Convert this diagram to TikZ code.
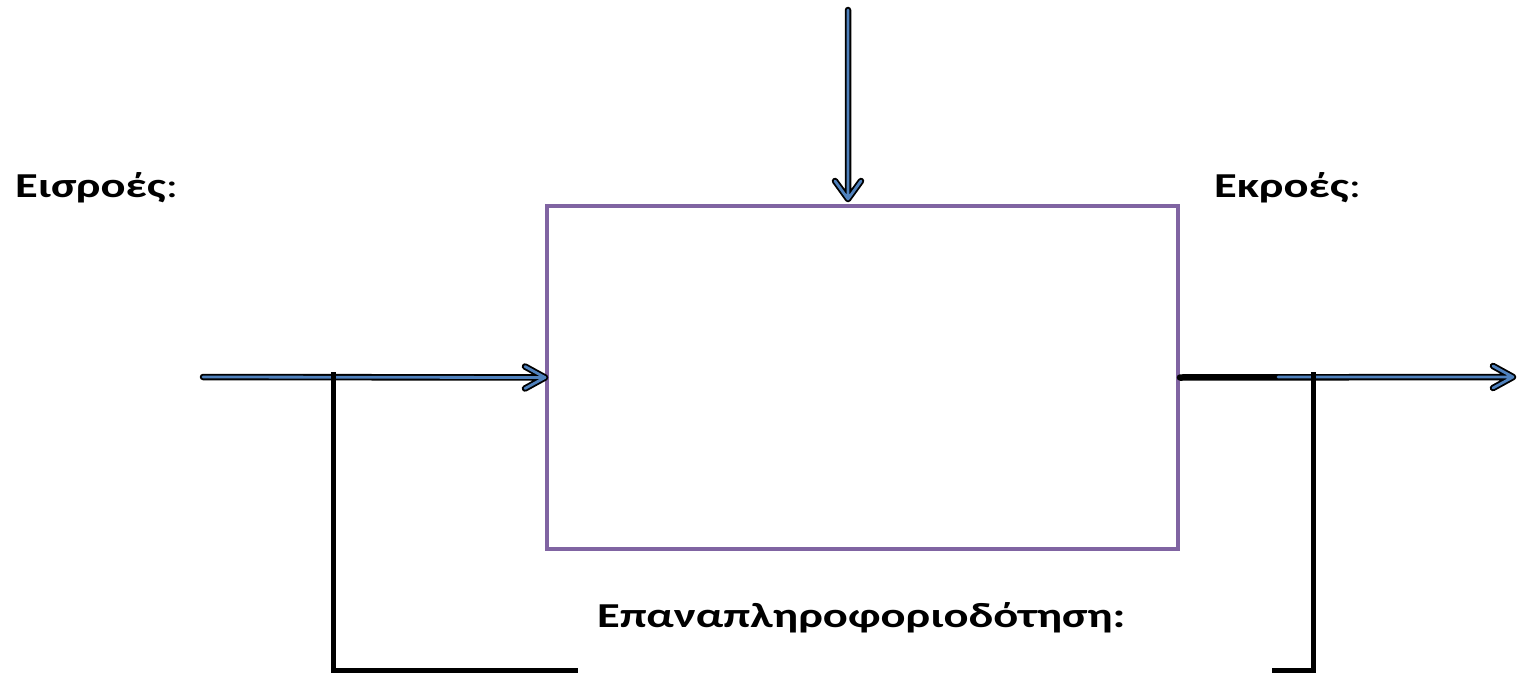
\documentclass[tikz,border=0pt]{standalone}
\usepackage{fontspec}
\setmainfont{Carlito}
\usetikzlibrary{calc}
\definecolor{boxpurple}{HTML}{8064A2}
\definecolor{flowblue}{HTML}{4F81BD}
\newcommand{\widetext}[1]{\scalebox{1.33}[1]{#1}}
\tikzset{
  sysbox/.style={draw=boxpurple, line width=4pt, minimum width=631pt, minimum height=343pt, inner sep=0pt},
  flowouter/.style={draw=black, line width=6.5pt, line cap=round, line join=round},
  flowinner/.style={draw=flowblue, line width=2.8pt, line cap=round, line join=round},
  fbline/.style={draw=black, line width=5pt},
  lbl/.style={inner sep=0pt, font=\fontsize{35}{42}\selectfont}
}
\begin{document}
\begin{tikzpicture}[x=1pt, y=-1pt]
\useasboundingbox (0,0) rectangle (1518,677);
% process box
\node[sysbox] (box) at (862.5,377.5) {};
% free ends of the flows
\coordinate (ctrlstart) at (848,10);
\coordinate (ctrlend) at (848,199);
\coordinate (instart) at (203,377);
\coordinate (outend) at (1513,377);
\coordinate (outblue) at (1278,377);
% control arrow from above
\foreach \s in {flowouter, flowinner}
  \draw[\s] (ctrlstart) -- (ctrlend) ($(ctrlend)+(-13,-18)$) -- (ctrlend) -- ($(ctrlend)+(13,-18)$);
% input arrow
\foreach \s in {flowouter, flowinner}
  \draw[\s] (instart) -- (box.west) ($(box.west)+(-20,-11)$) -- (box.west) -- ($(box.west)+(-20,11)$);
% output arrow
\draw[flowouter] (box.east) -- (outend) ($(outend)+(-20,-11)$) -- (outend) -- ($(outend)+(-20,11)$);
\draw[flowinner] (outblue) -- (outend) ($(outend)+(-20,-11)$) -- (outend) -- ($(outend)+(-20,11)$);
% feedback path
\coordinate (fbl1) at (333.5,372);
\coordinate (fbl2) at (333.5,670.5);
\coordinate (fbl3) at (578,670.5);
\coordinate (fbr1) at (1313,372);
\coordinate (fbr2) at (1313,670.5);
\coordinate (fbr3) at (1272,670.5);
\draw[fbline] (fbl1) -- (fbl2) -- (fbl3);
\draw[fbline] (fbr1) -- (fbr2) -- (fbr3);
% labels
\node[lbl, anchor=base west] (inlbl) at (15,197) {\widetext{\textbf{Εισροές}:}};
\node[lbl, anchor=base west] (outlbl) at (1214,197) {\widetext{\textbf{Εκροές}:}};
\node[lbl, anchor=base west] (fblbl) at (597,627) {\widetext{\textbf{Επαναπληροφοριοδότηση:}}};
\end{tikzpicture}
\end{document}
